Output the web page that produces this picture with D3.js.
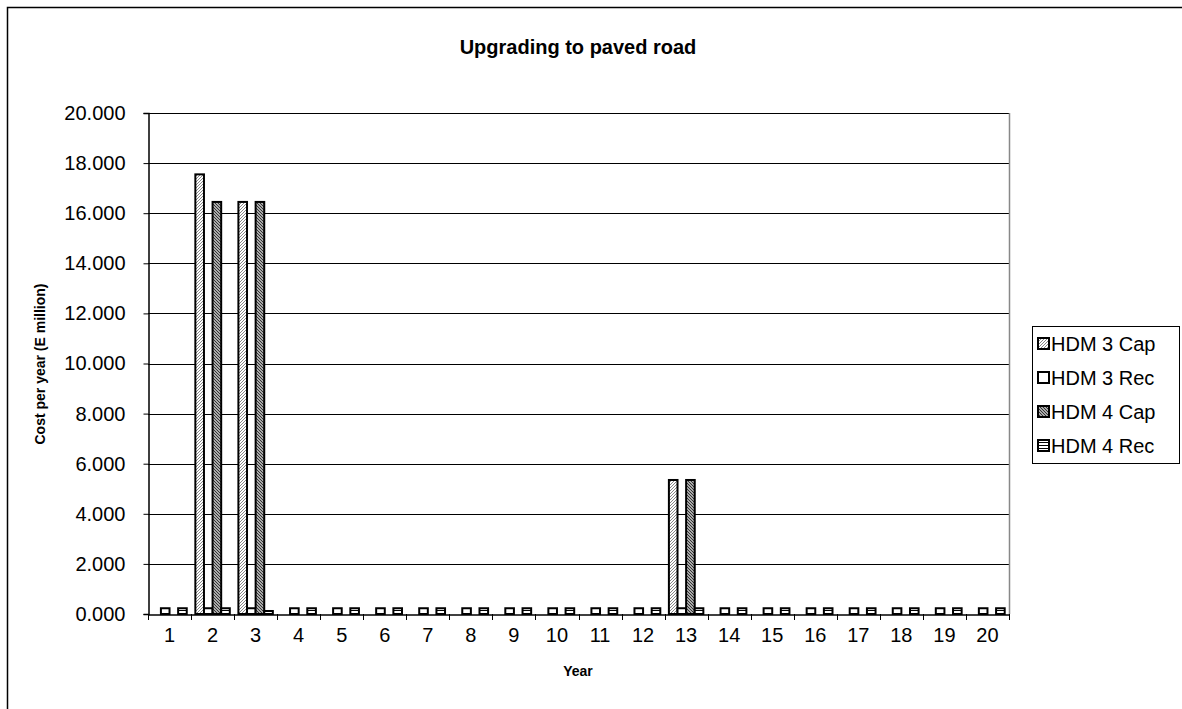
<!DOCTYPE html>
<html><head><meta charset="utf-8">
<script src="https://cdn.jsdelivr.net/npm/d3@7"></script>
<style>body{margin:0;background:#fff}svg{display:block;font-family:Arial,"Liberation Sans",sans-serif}</style>
</head><body><svg id="c" width="1182" height="709"></svg>
<script>
const years = ["1","2","3","4","5","6","7","8","9","10","11","12","13","14","15","16","17","18","19","20"];
const seriesNames = ["HDM 3 Cap","HDM 3 Rec","HDM 4 Cap","HDM 4 Rec"];
const hdm3Cap = [0,17.55,16.45,0,0,0,0,0,0,0,0,0,5.35,0,0,0,0,0,0,0];
const hdm3Rec = [0.23,0.23,0.23,0.23,0.23,0.23,0.23,0.23,0.23,0.23,0.23,0.23,0.23,0.23,0.23,0.23,0.23,0.23,0.23,0.23];
const hdm4Cap = [0,16.45,16.45,0,0,0,0,0,0,0,0,0,5.35,0,0,0,0,0,0,0];
const hdm4Rec = [0.23,0.23,0.12,0.23,0.23,0.23,0.23,0.23,0.23,0.23,0.23,0.23,0.23,0.23,0.23,0.23,0.23,0.23,0.23,0.23];
const yTicks = [0,2,4,6,8,10,12,14,16,18,20];
const seriesData = [hdm3Cap,hdm3Rec,hdm4Cap,hdm4Rec];

const svg = d3.select("#c");
const defs = svg.append("defs");
function pat(id, bg, lines, stroke, sw, size){
  const p = defs.append("pattern").attr("id",id).attr("patternUnits","userSpaceOnUse").attr("width",size).attr("height",size);
  p.append("rect").attr("width",size).attr("height",size).attr("fill",bg);
  lines.forEach(d=>p.append("path").attr("d",d).attr("stroke",stroke).attr("stroke-width",sw).attr("fill","none"));
}
pat("p0","#fff",["M0,3 L3,0","M-1,1 L1,-1","M2,4 L4,2"],"#888",1,3);
pat("p2","#aaa",["M0,0 L3,3","M-1,2 L1,4","M2,-1 L4,1"],"#333",1,3);
pat("p3","#fff",["M0,1.5 L3,1.5"],"#000",1,3);
const fills = ["url(#p0)","#fff","url(#p2)","url(#p3)"];

// outer border
svg.append("rect").attr("x",7.5).attr("y",7.5).attr("width",1200).attr("height",720)
  .attr("fill","none").attr("stroke","#000").attr("stroke-width",1.5);

const m = {l:148, r:1009, t:113, b:614};
const x = d3.scaleBand().domain(years).range([m.l,m.r]).paddingInner(0).paddingOuter(0);
const xs = d3.scaleBand().domain(d3.range(4)).range([0,x.bandwidth()]).paddingInner(0).paddingOuter(0.5);
const y = d3.scaleLinear().domain([0,20]).range([m.b,m.t]);

// gridlines
svg.append("g").selectAll("line").data(yTicks.slice(1)).join("line")
  .attr("x1",m.l).attr("x2",m.r).attr("y1",d=>Math.round(y(d))+0.5).attr("y2",d=>Math.round(y(d))+0.5)
  .attr("stroke","#000").attr("stroke-width",1);
// plot area right border
svg.append("line").attr("x1",m.r+0.5).attr("x2",m.r+0.5).attr("y1",m.t).attr("y2",m.b).attr("stroke","#888").attr("stroke-width",1.5);

// bars
const g = svg.append("g");
years.forEach((yr,i)=>{
  seriesData.forEach((s,k)=>{
    const v = s[i];
    if(v<=0) return;
    g.append("rect").attr("x",x(yr)+xs(k)).attr("width",xs.bandwidth())
      .attr("y",y(v)).attr("height",y(0)-y(v))
      .attr("fill",fills[k]).attr("stroke","#000").attr("stroke-width",2);
  });
});

// axes
const yAxis = d3.axisLeft(y).tickValues(yTicks).tickFormat(d3.format(".3f")).tickSize(5).tickPadding(18);
const ya = svg.append("g").attr("transform",`translate(${m.l+0.5},0)`).call(yAxis);
ya.selectAll("text").attr("font-size",20).attr("font-family","Arial, Liberation Sans, sans-serif").attr("fill","#000");
ya.select(".domain").attr("stroke","#000").attr("stroke-width",1.5);
ya.selectAll(".tick line").attr("stroke","#000");

const xAxis = d3.axisBottom(x).tickSize(0).tickPadding(13);
const xa = svg.append("g").attr("transform",`translate(0,${m.b+0.5})`).call(xAxis);
xa.selectAll("text").attr("font-size",20).attr("font-family","Arial, Liberation Sans, sans-serif").attr("fill","#000");
xa.select(".domain").attr("stroke","#000").attr("stroke-width",1.5);
// category boundary ticks
svg.append("g").selectAll("line").data(d3.range(21)).join("line")
  .attr("x1",d=>Math.round(m.l+d*x.step())+0.5).attr("x2",d=>Math.round(m.l+d*x.step())+0.5)
  .attr("y1",m.b).attr("y2",m.b+6).attr("stroke","#000");

// titles
svg.append("text").attr("x",578).attr("y",54).attr("text-anchor","middle")
  .attr("font-size",20).attr("font-weight","bold").text("Upgrading to paved road");
svg.append("text").attr("x",578).attr("y",676).attr("text-anchor","middle")
  .attr("font-size",14).attr("font-weight","bold").text("Year");
svg.append("text").attr("transform","translate(45,364) rotate(-90)").attr("text-anchor","middle")
  .attr("font-size",14).attr("font-weight","bold").text("Cost per year (E million)");

// legend
const lg = svg.append("g");
lg.append("rect").attr("x",1032.5).attr("y",326.5).attr("width",147).attr("height",137)
  .attr("fill","#fff").attr("stroke","#000").attr("stroke-width",1);
seriesNames.forEach((n,k)=>{
  const cy = 344 + k*34;
  lg.append("rect").attr("x",1038).attr("y",cy-6).attr("width",11).attr("height",11)
    .attr("fill",fills[k]).attr("stroke","#000").attr("stroke-width",2);
  lg.append("text").attr("x",1051).attr("y",cy+7).attr("font-size",20).text(n);
});
</script></body></html>
